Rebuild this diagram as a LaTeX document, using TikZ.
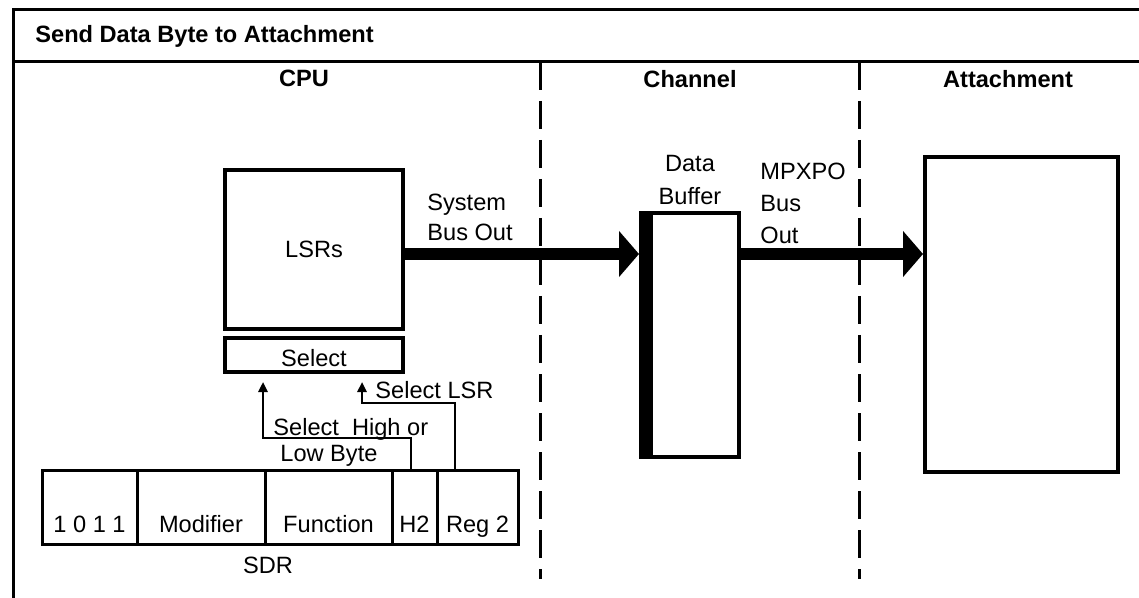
\documentclass[tikz,border=0pt]{standalone}
\usepackage{fontspec}
\setmainfont{Liberation Sans}
\usetikzlibrary{arrows.meta}
\begin{document}
\begin{tikzpicture}[x=0.5pt,y=-0.5pt,
  font=\fontsize{11.8}{15}\selectfont,
  frame/.style={line width=1.5pt},
  divider/.style={line width=1.5pt, dash pattern=on 14pt off 5.5pt},
  box/.style={draw, line width=1.7pt, inner sep=0pt, outer sep=0pt, anchor=north west},
  head/.style={font=\fontsize{11.8}{15}\selectfont\bfseries},
  bus/.style={line width=6pt, -{Triangle[length=10pt,width=22.5pt]}},
  sig/.style={line width=1.2pt, -{Triangle[length=5pt,width=4.5pt]}, shorten >=5pt},
  cell/.style={draw, line width=1.5pt, inner sep=0pt, outer sep=0pt, minimum height=37pt,
               text height=31pt, text depth=6pt, anchor=north west},
  lbl/.style={inner sep=0pt}
]
\useasboundingbox (0,0) rectangle (1139,598);
% frame
\coordinate (ftl) at (13,10);
\coordinate (ftr) at (1139,10);
\coordinate (fbl) at (13,598);
\coordinate (sl) at (13,62);
\coordinate (sr) at (1139,62);
\draw[frame] (ftr) -- (ftl) -- (fbl);
\draw[frame] (sl) -- (sr);
% titles
\node[lbl, head, anchor=base west] (title) at (35,43) {Send Data Byte to Attachment};
\node[lbl, head, anchor=base] (cpu) at (304,87) {CPU};
\node[lbl, head, anchor=base] (chan) at (690,88) {Channel};
\node[lbl, head, anchor=base] (attl) at (1008,88) {Attachment};
% dividers
\coordinate (d1t) at (540,62); \coordinate (d1b) at (540,579);
\coordinate (d2t) at (859,62); \coordinate (d2b) at (859,579);
\draw[divider] (d1t) -- (d1b);
\draw[divider] (d2t) -- (d2b);
% CPU boxes
\node[box, minimum width=89pt, minimum height=79.5pt] (lsr) at (225,170) {LSRs};
\node[box, minimum width=89pt, minimum height=17pt, text height=14pt, text depth=3pt] (sel) at (225,338) {Select};
% channel
\node[box, minimum width=49pt, minimum height=122pt] (buf) at (641,213) {};
\fill (buf.north west) rectangle ([xshift=6pt]buf.south west);
\node[lbl, align=center, font=\fontsize{11.8}{16.5}\selectfont] (buft) at (690,180) {Data\\Buffer};
% attachment
\node[box, minimum width=96.5pt, minimum height=157.5pt] (att) at (925,157) {};
% buses
\coordinate (busy) at (0,254);
\draw[bus] (lsr.east |- busy) -- ([xshift=-1pt]buf.west |- busy);
\draw[bus] (buf.east |- busy) -- ([xshift=-1pt]att.west |- busy);
\node[lbl, align=left, anchor=west] (sbo) at (427,217) {System\\Bus Out};
\node[lbl, align=left, anchor=west, font=\fontsize{11.8}{16}\selectfont] (mpx) at (760,203) {MPXPO\\Bus\\Out};
% SDR
\node[cell, minimum width=47.5pt] (c1) at (42,470) {1 0 1 1};
\node[cell, minimum width=64pt] (c2) at (c1.north east) {Modifier};
\node[cell, minimum width=63.5pt] (c3) at (c2.north east) {Function};
\node[cell, minimum width=22.5pt] (h2) at (c3.north east) {H2};
\node[cell, minimum width=40.5pt] (reg) at (h2.north east) {Reg 2};
\node[lbl, anchor=base] (sdrl) at (268,573) {SDR};
% select signals
\coordinate (hl) at (263,438);
\coordinate (ls) at (362,403);
\draw[sig] ([xshift=-1.75pt]h2.north) |- (hl) -- (sel.south -| hl);
\draw[sig] ([xshift=9pt]reg.north west) |- (ls) -- (sel.south -| ls);
\node[lbl, anchor=base west] (slsr) at (375,398) {Select LSR};
\node[lbl, anchor=base west] (shl) at (273,435) {Select\ \ High or};
\node[lbl, anchor=base west] (lb) at (280,461) {Low Byte};
\end{tikzpicture}
\end{document}
